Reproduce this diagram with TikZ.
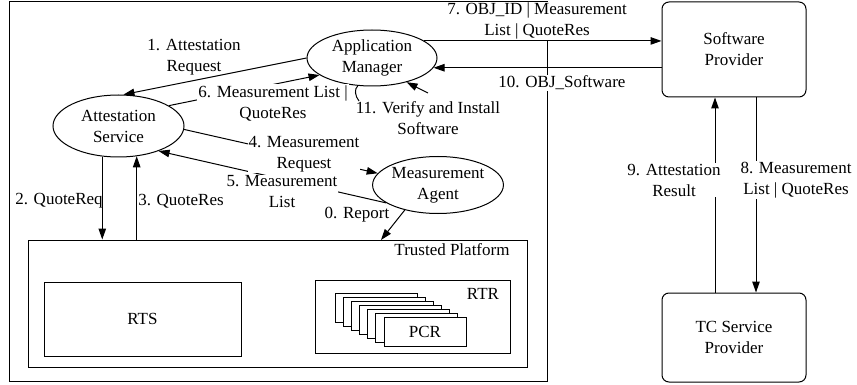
\documentclass[tikz,border=0pt]{standalone}
\usepackage{fontspec}
\setmainfont{Liberation Serif}
\usetikzlibrary{arrows.meta,calc,shapes.geometric}
\begin{document}
\begin{tikzpicture}[x=1pt,y=-1pt,
  every node/.style={font=\fontsize{17}{21}\selectfont},
  conn/.style={line width=1pt,-{Triangle[length=11pt,width=7.5pt]}},
  plain/.style={line width=1pt},
  box/.style={draw,line width=1pt,inner sep=0pt},
  rbox/.style={box,rounded corners=7pt,align=center},
  ell/.style={draw,ellipse,line width=1pt,inner sep=0pt,align=center},
  lbl/.style={align=center,inner sep=1pt},
  wlbl/.style={lbl,fill=white},
]
\useasboundingbox (0,0) rectangle (857,385);

% containers
\node[box,minimum width=538pt,minimum height=379pt] (outer) at (278,191.5) {};
\node[box,minimum width=499pt,minimum height=127pt] (tp) at (277.5,303.5) {};
\node[lbl] (tplbl) at (452,250) {Trusted Platform};
\node[box,minimum width=197pt,minimum height=74pt] (rts) at (142.5,319) {RTS};
\node[box,minimum width=195pt,minimum height=73pt] (rtr) at (412.5,316.5) {};
\node[lbl] (rtrlbl) at (483,294) {RTR};
\foreach \i in {0,...,5}{
  \node[box,fill=white,minimum width=82pt,minimum height=29pt] (pcr\i) at ({376+8.17*\i},{307.5+4*\i}) {};
}
\node[box,fill=white,minimum width=82pt,minimum height=29pt] (pcr) at ({376+8.17*6},{307.5+4*6}) {PCR};

% providers
\node[rbox,minimum width=144pt,minimum height=95pt] (sp) at (734,49.5) {Software\\Provider};
\node[rbox,minimum width=144pt,minimum height=89pt] (tc) at (734,337.5) {TC Service\\Provider};

% ellipses
\node[ell,minimum width=130pt,minimum height=56pt] (am) at (372,58) {Application\\Manager};
\node[ell,minimum width=131pt,minimum height=62pt] (as) at (118.5,126) {Attestation\\Service};
\node[ell,minimum width=130pt,minimum height=57pt] (ma) at (438,185) {Measurement\\Agent};

% labels that only hide the outer frame
\node[wlbl] (l7) at (537,21) {7. OBJ\_ID | Measurement\\List | QuoteRes};
\node[wlbl] (l10) at (562,83) {10. OBJ\_Software};

\coordinate (rep) at (381,240);
\coordinate (c11) at (428,93);

% connectors
\draw[conn] (am.180) -- (as.81);
\draw[conn] (as.242) -- (as.242 |- tp.north);
\draw[conn] (as.-59 |- tp.north) -- (as.-59);
\draw[conn] (as.-3) -- (ma.169);
\draw[conn] (ma.199) -- (as.-32);
\draw[conn] (as.22) -- (am.198);
\draw[conn] (ma.217) -- (rep);
\draw[conn] (am.18) -- (am.18 -| sp.west);
\draw[conn] (sp.west |- am.-9) -- (am.-9);
\draw[conn] ([xshift=-19pt]tc.north) -- ([xshift=-19pt]sp.south);
\draw[conn] ([xshift=22pt]sp.south) -- ([xshift=22pt]tc.north);
\draw[conn] (c11) -- (am.-35);
\draw[plain] (am.243) .. controls (354,89) and (355,96) .. (359,101);

% labels
\node[lbl] (l1) at (194,57) {1. Attestation\\Request};
\node[wlbl] (l6) at (273,103) {6. Measurement List |\\QuoteRes};
\node[wlbl] (l4) at (304,154) {4. Measurement\\Request};
\node[wlbl] (l5) at (282,192) {5. Measurement\\List};
\node[lbl] (l2) at (59,201) {2. QuoteReq};
\node[lbl] (l3) at (181,201) {3. QuoteRes};
\node[lbl] (l0) at (357,215) {0. Report};
\node[lbl] (l11) at (428,118) {11. Verify and Install\\Software};
\node[wlbl] (l9) at (674,180) {9. Attestation\\Result};
\node[wlbl] (l8) at (796,180) {8. Measurement\\List | QuoteRes};
\end{tikzpicture}
\end{document}
